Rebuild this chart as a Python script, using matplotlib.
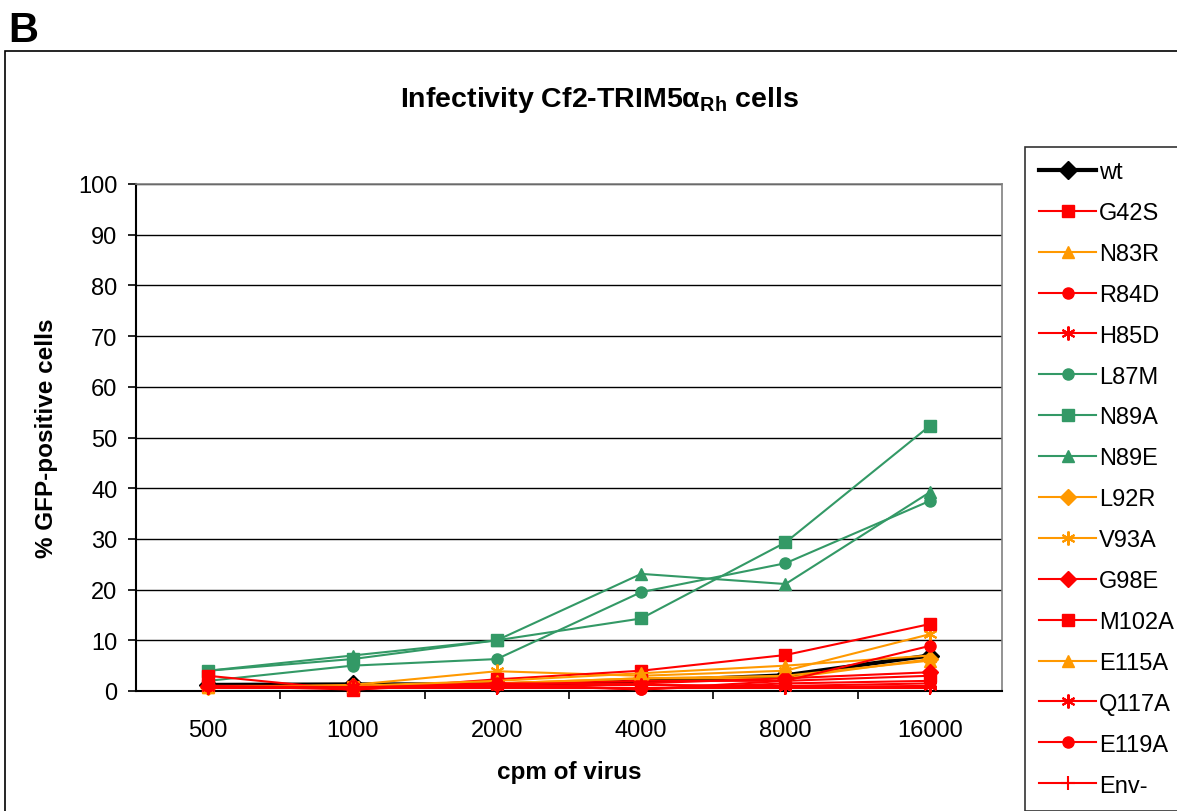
import numpy as np
import matplotlib
matplotlib.use("Agg")
import matplotlib.pyplot as plt
from matplotlib.patches import Rectangle

plt.rcParams['font.family'] = ['Liberation Sans', 'DejaVu Sans']
plt.rcParams['mathtext.fontset'] = 'custom'
plt.rcParams['mathtext.rm'] = 'Liberation Sans'
plt.rcParams['mathtext.bf'] = 'Liberation Sans:bold'
plt.rcParams['mathtext.it'] = 'Liberation Sans:italic'

doses = ["500", "1000", "2000", "4000", "8000", "16000"]

names = ["wt", "G42S", "N83R", "R84D", "H85D", "L87M", "N89A", "N89E",
         "L92R", "V93A", "G98E", "M102A", "E115A", "Q117A", "E119A", "Env-"]

wt    = [1.2, 1.3, 1.3, 1.9, 3.1, 7.0]
g42s  = [1.0, 0.8, 1.5, 2.0, 2.0, 3.0]
n83r  = [0.8, 1.0, 1.5, 2.5, 3.0, 6.0]
r84d  = [1.0, 1.0, 1.2, 0.3, 1.5, 2.0]
h85d  = [0.7, 0.8, 1.0, 1.2, 0.8, 1.0]
l87m  = [2.0, 5.0, 6.3, 19.5, 25.2, 37.5]
n89a  = [4.0, 6.3, 10.0, 14.3, 29.3, 52.3]
n89e  = [4.0, 7.0, 10.0, 23.1, 21.1, 39.2]
l92r  = [0.8, 1.0, 1.5, 2.5, 2.5, 6.3]
v93a  = [0.8, 1.2, 3.9, 3.0, 4.0, 11.2]
g98e  = [1.0, 1.0, 1.5, 1.5, 2.5, 3.7]
m102a = [3.0, 0.2, 2.3, 4.0, 7.1, 13.2]
e115a = [0.8, 1.0, 2.0, 3.5, 5.0, 7.0]
q117a = [0.8, 0.8, 1.0, 1.2, 1.0, 1.5]
e119a = [1.0, 0.3, 1.5, 0.3, 2.0, 8.9]
env   = [0.5, 0.5, 0.5, 0.5, 0.5, 0.5]

series = [wt, g42s, n83r, r84d, h85d, l87m, n89a, n89e,
          l92r, v93a, g98e, m102a, e115a, q117a, e119a, env]

RED = "#FF0000"
ORANGE = "#FF9900"
GREEN = "#339966"
star = (6, 2, 0)
styles = [
    ("black", "D", 3.0, 9),
    (RED, "s", 1.5, 8),
    (ORANGE, "^", 1.5, 9),
    (RED, "o", 1.5, 8),
    (RED, star, 1.5, 10),
    (GREEN, "o", 1.5, 8),
    (GREEN, "s", 1.5, 8),
    (GREEN, "^", 1.5, 9),
    (ORANGE, "D", 1.5, 8),
    (ORANGE, star, 1.5, 10),
    (RED, "D", 1.5, 8),
    (RED, "s", 1.5, 8),
    (ORANGE, "^", 1.5, 9),
    (RED, star, 1.5, 10),
    (RED, "o", 1.5, 8),
    (RED, "+", 1.5, 10),
]

fig = plt.figure(figsize=(11.77, 8.12), dpi=100)
W, H = 1177, 812
ax = fig.add_axes([136 / W, 1 - 692 / H, (1002 - 136) / W, (692 - 185) / H])

x = np.arange(len(doses))
handles = []
for name, ys, (c, m, lw, ms) in zip(names, series, styles):
    mew = 1.5 if m in (star, "+") else 1
    h, = ax.plot(x, ys, color=c, marker=m, lw=lw, ms=ms, mew=mew,
                 mec=c, mfc=c, label=name, clip_on=False, zorder=3)
    handles.append(h)

ax.set_xlim(-0.5, len(doses) - 0.5)
ax.set_ylim(0, 100)
ax.set_yticks(np.arange(0, 101, 10))
ax.set_xticks(x)
ax.set_xticklabels(doses, fontsize=17)
ax.set_xticks(np.arange(0.5, len(doses) - 1, 1), minor=True)
ax.tick_params(axis="x", which="major", length=0, pad=20)
ax.tick_params(axis="x", which="minor", length=5.5, width=1.2, direction="out")
ax.tick_params(axis="y", length=5.5, width=1.2, labelsize=17, pad=8)
ax.yaxis.grid(True, color="black", lw=1)
ax.set_axisbelow(True)
for s in ("top", "right"):
    ax.spines[s].set_color("#808080")
    ax.spines[s].set_linewidth(1.2)
for s in ("left", "bottom"):
    ax.spines[s].set_color("black")
    ax.spines[s].set_linewidth(1.5)

ax.set_xlabel("cpm of virus", fontsize=17.5, fontweight="bold", labelpad=14)
ax.set_ylabel("% GFP-positive cells", fontsize=17.5, fontweight="bold", labelpad=14)

fig.text(600 / W, 1 - 100 / H,
         r"Infectivity Cf2-TRIM5$\mathbf{\alpha}_{\mathbf{Rh}}$ cells",
         ha="center", va="center", fontsize=20.5, fontweight="bold")
fig.text(8 / W, 1 - 31 / H, "B", fontsize=30, fontweight="bold",
         ha="left", va="center")

# outer chart border
fig.patches.append(Rectangle((5 / W, -0.01), 1.1, 1 - 52 / H + 0.01,
                             transform=fig.transFigure, fill=False,
                             ec="black", lw=1.2))

leg = fig.legend(handles=handles, loc="upper left",
                 bbox_to_anchor=(1025 / W, 1 - 148 / H),
                 fontsize=17, frameon=True, fancybox=False,
                 borderpad=0.6, labelspacing=0.8, handlelength=2.4,
                 handletextpad=0.15, borderaxespad=0)
leg.get_frame().set_edgecolor("black")
leg.get_frame().set_linewidth(1.2)

fig.savefig("out.png", dpi=100)
